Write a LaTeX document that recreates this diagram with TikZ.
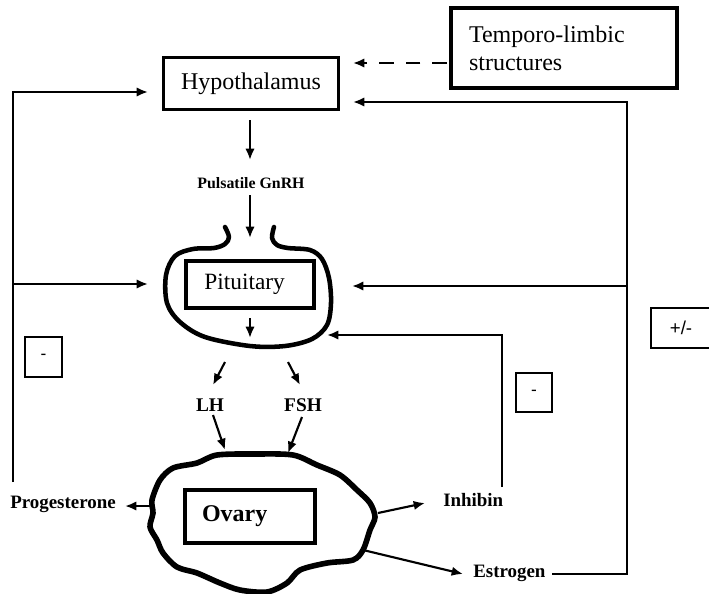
\documentclass[tikz,border=0pt]{standalone}
\usepackage{fontspec}
\setmainfont{Liberation Serif}
\newfontfamily\signfont{Liberation Sans}
\usetikzlibrary{arrows.meta}

\tikzset{
  box/.style={draw, line width=2.7pt, inner sep=0pt},
  signbox/.style={draw, line width=1.5pt, inner sep=0pt, minimum width=28pt, minimum height=29.5pt, font=\signfont\fontsize{13pt}{13pt}\selectfont},
  conn/.style={line width=1.6pt, -{Latex[length=8.5pt,width=7pt]}},
  lbl/.style={inner sep=0pt, font=\bfseries\fontsize{14.2pt}{15pt}\selectfont},
}

\begin{document}
\begin{tikzpicture}[x=0.75pt,y=0.75pt,yscale=-1,xscale=1]
\path[use as bounding box] (0,0) rectangle (709,593);

% Text Node
\node[box, minimum width=131pt, minimum height=39pt, font=\fontsize{18pt}{20pt}\selectfont] (hypo) at (251,83.5) {Hypothalamus};
% Text Node
\node[box, minimum height=60pt, inner xsep=13.5pt, text width=142.5pt, align=left, font=\fontsize{18pt}{21pt}\selectfont] (temporo) at (564,48) {Temporo-limbic\\structures};
% Text Node
\node[lbl, font=\bfseries\fontsize{11.9pt}{12pt}\selectfont] (gnrh) at (251,183) {Pulsatile GnRH};
% Text Node
\node[box, minimum width=96pt, minimum height=35pt, font=\fontsize{17.5pt}{18pt}\selectfont] (pit) at (250,284.5) {\hspace*{-8pt}Pituitary};
% Text Node
\node[lbl, font=\bfseries\fontsize{14.5pt}{15pt}\selectfont] (lh) at (210,405) {LH};
\node[lbl, font=\bfseries\fontsize{14.5pt}{15pt}\selectfont] (fsh) at (303,405) {FSH};
% Text Node
\node[box, minimum height=39.75pt, inner xsep=12.75pt, text width=72pt, align=left, font=\bfseries\fontsize{18pt}{18pt}\selectfont] (ovary) at (250,516.5) {Ovary};
% Text Node
\node[lbl, anchor=base west] (prog) at (10,508) {Progesterone};
\node[lbl, anchor=base west] (inhib) at (443,506) {Inhibin};
\node[lbl, anchor=base west] (estro) at (473,577) {Estrogen};
% Text Node
\node[signbox] (minusL) at (43.5,357) {-};
\node[signbox, minimum width=27pt] (minusR) at (534,392.5) {-};
\node[signbox, minimum width=45pt, font=\signfont\fontsize{14pt}{14pt}\selectfont] (pm) at (681,328) {+/-};

%Shape: Pituitary outline
\draw[line width=3.4pt, line cap=round, line join=round] plot[smooth, tension=0.55] coordinates {(225,227) (229,237) (225,244) (214,248) (193,249) (175,256) (166,275) (167,303) (180,322) (205,337) (250,346) (285,346) (312,339) (327,325) (331,303) (329,278) (322,259) (310,250) (288,248) (277,245) (272,238) (274,227)};

%Shape: Ovary outline
\draw[line width=4.2pt, line join=round] plot[smooth cycle, tension=0.5] coordinates {(217,455) (255,454) (293,455) (317,465) (340,475) (357,490) (370,503) (375,517) (370,530) (363,550) (353,560) (327,563) (300,570) (287,583) (267,592) (240,590) (220,583) (197,573) (177,567) (163,553) (157,540) (150,527) (153,513) (152,500) (160,480) (173,468) (197,463)};

% end points of the connectors
\coordinate (hypoOut) at (250,120);
\coordinate (gnrhIn) at (250,160);
\coordinate (gnrhOut) at (250,195);
\coordinate (pitIn) at (250,238);
\coordinate (pitOut) at (250,318);
\coordinate (pitBot) at (250,338);
\coordinate (lhTop) at (225,362);
\coordinate (lhIn) at (213,385);
\coordinate (fshTop) at (288,362);
\coordinate (fshIn) at (300,385);
\coordinate (lhOut) at (213,415);
\coordinate (ovIn1) at (225,450);
\coordinate (fshOut) at (302,417);
\coordinate (ovIn2) at (288,453);
\coordinate (ovL) at (152,506);
\coordinate (progIn) at (125,506);
\coordinate (ovR1) at (378,513);
\coordinate (inhibIn) at (425,503);
\coordinate (ovR2) at (363,550);
\coordinate (estroIn) at (463,574);
\coordinate (lBot) at (13,482);
\coordinate (lTop) at (13,92);
\coordinate (lMid) at (13,284);
\coordinate (hypoL) at (148,92);
\coordinate (pitL) at (148,284);
\coordinate (estroOut) at (552,574);
\coordinate (rBot) at (627,574);
\coordinate (rTop) at (627,102);
\coordinate (rMid) at (627,286);
\coordinate (hypoR) at (353,102);
\coordinate (pitR) at (352,286);
\coordinate (inhTop) at (502,487);
\coordinate (inhCorner) at (502,335);
\coordinate (pitBR) at (327,335);
\coordinate (dashStart) at (447,63);
\coordinate (hypoDash) at (353,63);

%Straight Lines
\draw[conn] (hypoOut) -- (gnrhIn);
\draw[conn] (gnrhOut) -- (pitIn);
\draw[conn] (pitOut) -- (pitBot);
\draw[conn] (lhTop) -- (lhIn);
\draw[conn] (fshTop) -- (fshIn);
\draw[conn] (lhOut) -- (ovIn1);
\draw[conn] (fshOut) -- (ovIn2);
\draw[conn] (ovL) -- (progIn);
\draw[conn] (ovR1) -- (inhibIn);
\draw[conn] (ovR2) -- (estroIn);

%Feedback loops
\draw[conn] (lBot) -- (lTop) -- (hypoL);
\draw[conn] (lMid) -- (pitL);
\draw[conn] (estroOut) -- (rBot) -- (rTop) -- (hypoR);
\draw[conn] (rMid) -- (pitR);
\draw[conn] (inhTop) -- (inhCorner) -- (pitBR);
\draw[conn, dash pattern=on 11pt off 9pt] (dashStart) -- (hypoDash);

\end{tikzpicture}
\end{document}
